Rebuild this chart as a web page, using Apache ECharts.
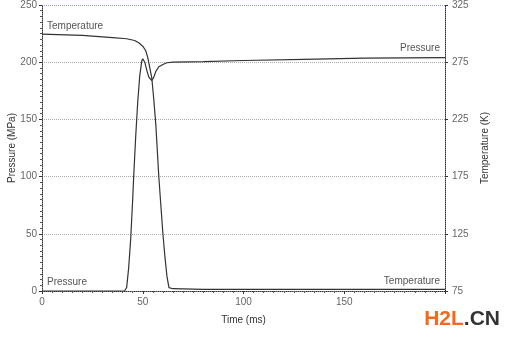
<!DOCTYPE html>
<html><head><meta charset="utf-8">
<script src="https://cdn.jsdelivr.net/npm/echarts@6/dist/echarts.min.js"></script>
<style>html,body{margin:0;padding:0;background:#fff}#c{width:514px;height:339px}</style>
</head><body><div id="c"></div>
<script>
// Time (ms) and values
var pressureTime = [0, 41, 42, 43, 44, 45, 45.5, 46.5, 47.5, 48.5, 49.5, 50, 51, 52, 53, 54.5, 55.5, 56.5, 58, 60, 62, 65, 80, 100, 130, 160, 200];
var pressureVal  = [0, 0, 3, 20, 45, 80, 100, 135, 165, 188, 201, 203, 200, 193, 187, 184, 187, 192, 196, 198, 199.5, 200, 200.5, 201.5, 202.5, 203.5, 204];
var tempTime = [0, 20, 35, 42, 46, 48, 50, 51.5, 52.5, 53.5, 54.5, 55.5, 56.5, 58, 60, 61, 62, 63, 65, 80, 120, 200];
var tempVal  = [299.5, 298.5, 296.5, 295.5, 294, 292, 289, 285, 279, 270, 261, 242, 220, 174, 125, 105, 88, 78, 77, 76.5, 76.5, 76.5];
var xTicks = [0, 50, 100, 150, 200];
var pressureTicks = [0, 50, 100, 150, 200, 250];
var tempTicks = [75, 125, 175, 225, 275, 325];
var seriesNames = ['Pressure', 'Temperature'];

function zip(a, b) { return a.map(function (t, i) { return [t, b[i]]; }); }
var pData = zip(pressureTime, pressureVal);
var tData = zip(tempTime, tempVal);

var chart = echarts.init(document.getElementById('c'), null, {renderer: 'canvas'});
var lblStyle = {color: '#555', fontSize: 10, fontFamily: 'Arial, Liberation Sans'};
function mp(coord, pos, off) {
  return {coord: coord, symbol: 'circle', symbolSize: 0,
    label: Object.assign({show: true, position: pos, distance: 5, offset: off}, lblStyle)};
}
var axisLbl = {color: '#666', fontSize: 10, fontFamily: 'Arial, Liberation Sans'};
chart.setOption({
  animation: false,
  grid: {left: 42, right: 69, top: 5, bottom: 48, containLabel: false, outerBoundsMode: 'none'},
  xAxis: {
    type: 'value', min: xTicks[0], max: xTicks[xTicks.length - 1], interval: 50,
    name: 'Time (ms)', nameLocation: 'middle', nameGap: 24, nameMoveOverlap: false,
    nameTextStyle: {color: '#333', fontSize: 10, fontFamily: 'Arial, Liberation Sans'},
    axisLine: {lineStyle: {color: '#333', type: 'dotted', width: 1}},
    axisTick: {show: true, length: 3, inside: false, lineStyle: {color: '#333'}},
    minorTick: {show: true, splitNumber: 10, length: 2, lineStyle: {color: '#555'}},
    axisLabel: Object.assign({showMaxLabel: false, margin: 6}, axisLbl),
    splitLine: {show: false}
  },
  yAxis: [{
    type: 'value', min: pressureTicks[0], max: pressureTicks[pressureTicks.length - 1], interval: 50,
    name: 'Pressure (MPa)', nameLocation: 'middle', nameGap: 25, nameMoveOverlap: false,
    nameTextStyle: {color: '#333', fontSize: 10, fontFamily: 'Arial, Liberation Sans'},
    axisLine: {show: true, lineStyle: {color: '#333', type: 'dotted', width: 1}},
    axisTick: {show: true, length: 3, lineStyle: {color: '#333'}},
    minorTick: {show: true, splitNumber: 10, length: 2, lineStyle: {color: '#555'}},
    axisLabel: Object.assign({margin: 5}, axisLbl),
    splitLine: {show: true, lineStyle: {type: 'dotted', width: 1,
      color: ['#aaa', '#aaa', '#aaa', '#aaa', '#aaa', '#8f9ae0']}}
  }, {
    type: 'value', min: tempTicks[0], max: tempTicks[tempTicks.length - 1], interval: 50, position: 'right',
    name: 'Temperature (K)', nameLocation: 'middle', nameGap: 35, nameRotate: 90, nameMoveOverlap: false,
    nameTextStyle: {color: '#333', fontSize: 10, fontFamily: 'Arial, Liberation Sans'},
    axisLine: {show: true, lineStyle: {color: '#333', type: 'dotted', width: 1}},
    axisTick: {show: true, length: 3, lineStyle: {color: '#333'}},
    axisLabel: Object.assign({margin: 7}, axisLbl),
    splitLine: {show: false}
  }],
  series: [{
    name: seriesNames[0], type: 'line', yAxisIndex: 0, data: pData, showSymbol: false,
    lineStyle: {color: '#333', width: 1.2}, z: 3,
    markPoint: {silent: true, data: [
      Object.assign(mp(pData[0], 'right', [0, -9]), {name: seriesNames[0]}),
      Object.assign(mp(pData[pData.length - 1], 'left', [0, -9]), {name: seriesNames[0]})
    ], label: {formatter: '{b}'}}
  }, {
    name: seriesNames[1], type: 'line', yAxisIndex: 1, data: tData, showSymbol: false,
    lineStyle: {color: '#333', width: 1.2}, z: 3,
    markPoint: {silent: true, data: [
      Object.assign(mp(tData[0], 'right', [0, -8]), {name: seriesNames[1]}),
      Object.assign(mp(tData[tData.length - 1], 'left', [0, -8]), {name: seriesNames[1]})
    ], label: {formatter: '{b}'}}
  }],
  graphic: [{
    type: 'text', right: 14, bottom: 9,
    style: {text: '{a|H2L}{b|.CN}', rich: {
      a: {fill: '#f26b1d', fontSize: 21, fontWeight: 'bold', fontFamily: 'Arial, Liberation Sans'},
      b: {fill: '#333', fontSize: 21, fontWeight: 'bold', fontFamily: 'Arial, Liberation Sans'}}}
  }]
});
</script></body></html>
